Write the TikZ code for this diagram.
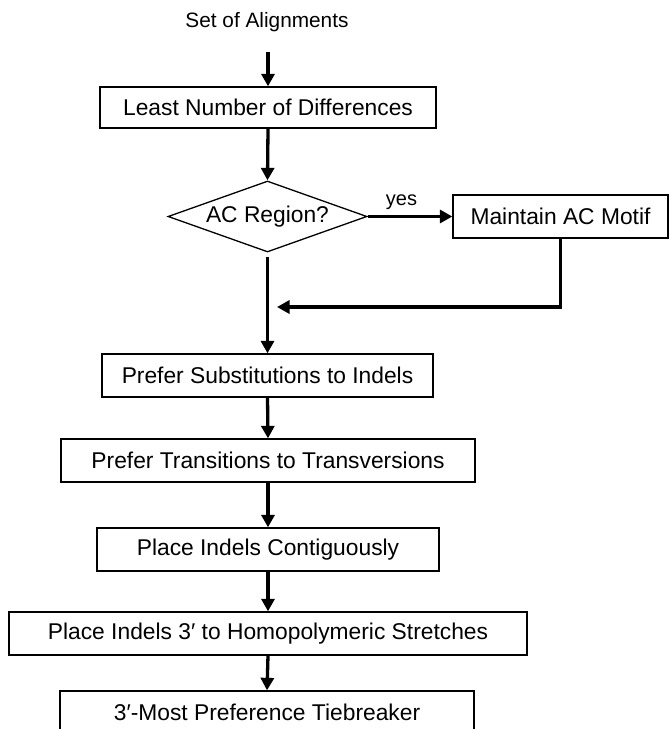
\documentclass[tikz,border=0pt]{standalone}
\usepackage{fontspec}
\setmainfont{Liberation Sans}
\usetikzlibrary{shapes.geometric,arrows.meta}
\begin{document}
\begin{tikzpicture}[x=1pt,y=-1pt,
  box/.style={draw=black,line width=1.3pt,rectangle,inner sep=0pt,align=center,
    font=\fontsize{22.8}{27}\selectfont},
  dia/.style={draw=black,line width=1.3pt,diamond,inner sep=0pt,
    font=\fontsize{22.8}{27}\selectfont},
  arr/.style={line width=3.3pt,-{Triangle[length=12.5pt,width=13pt]}},
  plain/.style={line width=3.3pt}]
\useasboundingbox (0,0) rectangle (670,729);
\clip (0,0) rectangle (670,729);
\node[font=\fontsize{20.8}{25}\selectfont] (set) at (267,22) {Set of Alignments};
\node[box,minimum width=336pt,minimum height=41pt] (b1) at (268,107.5) {Least Number of Differences};
\node[draw=black,line width=1.3pt,inner sep=0pt,minimum width=199pt,minimum height=71pt,shape=diamond,
  font=\fontsize{22.8}{27}\selectfont] (d) at (267.5,216.5) {};
\node[font=\fontsize{22.8}{27}\selectfont] (dt) at (267.5,216.5) {AC Region?};
\node[box,minimum width=215pt,minimum height=43pt] (m) at (560.5,216.5) {Maintain AC Motif};
\node[box,minimum width=331pt,minimum height=43pt] (s) at (267.5,375.5) {Prefer Substitutions to Indels};
\node[box,minimum width=414pt,minimum height=43pt] (t) at (268,460.5) {Prefer Transitions to Transversions};
\node[box,minimum width=342pt,minimum height=43pt] (c) at (268,549.5) {Place Indels Contiguously};
\node[box,minimum width=518pt,minimum height=43pt] (p) at (268,633.5) {Place Indels 3′ to Homopolymeric Stretches};
\node[box,minimum width=414pt,minimum height=43pt] (tb) at (267,712.5) {3′-Most Preference Tiebreaker};
\coordinate (j) at (277,307);
\draw[arr,shorten <=17pt] (set.south -| b1.north) -- (b1.north);
\draw[arr] (b1.south) -- (d.north);
\draw[arr] (d.east) -- node[above=2pt,pos=0.4,font=\fontsize{20}{24}\selectfont]{yes} (m.west);
\draw[arr,shorten <=4pt] (d.south) -- (s.north);
\draw[line width=3.3pt,-{Triangle[length=12.5pt,width=13pt]}] (m.south) |- (j);
\draw[arr] (s.south) -- (t.north);
\draw[arr] (t.south) -- (c.north);
\draw[arr] (c.south) -- (p.north);
\draw[arr] (p.south) -- (tb.north);
\end{tikzpicture}
\end{document}
